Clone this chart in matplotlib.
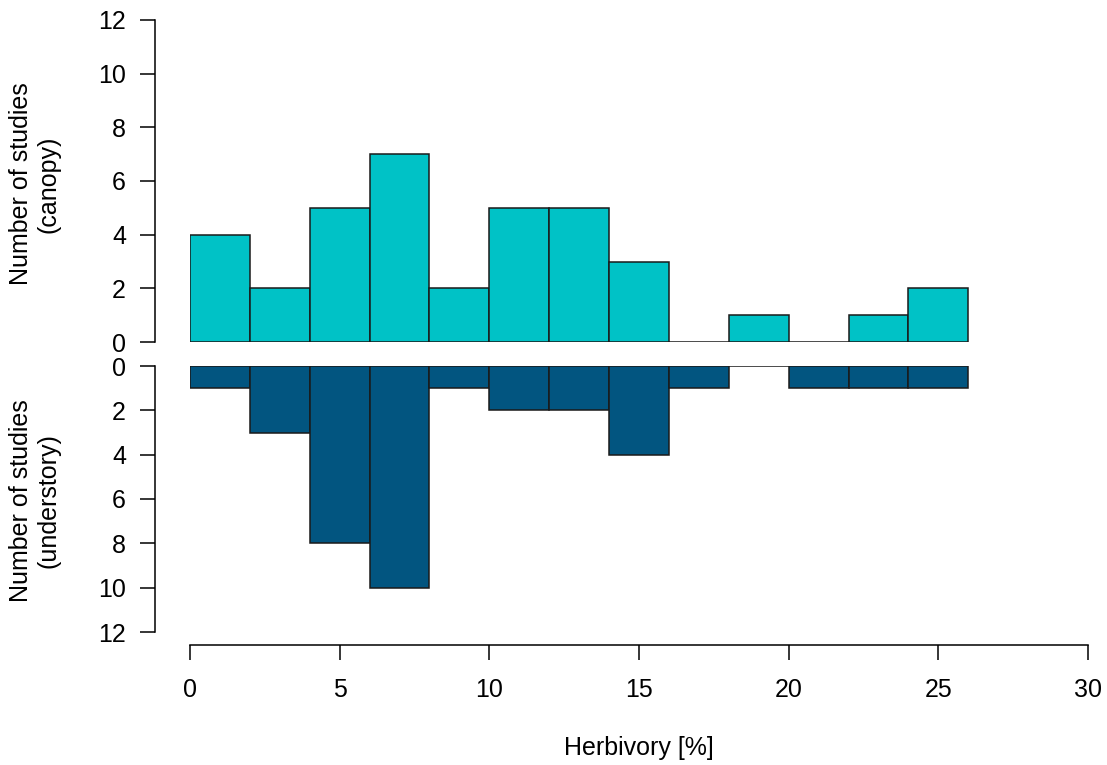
import matplotlib
matplotlib.use("Agg")
import matplotlib.pyplot as plt

# histogram bins (Herbivory %), width 2
bin_edges = [0, 2, 4, 6, 8, 10, 12, 14, 16, 18, 20, 22, 24, 26]
canopy = [4, 2, 5, 7, 2, 5, 5, 3, 0, 1, 0, 1, 2]
understory = [1, 3, 8, 10, 1, 2, 2, 4, 1, 0, 1, 1, 1]
x_ticks = [0, 5, 10, 15, 20, 25, 30]
y_ticks = [0, 2, 4, 6, 8, 10, 12]

plt.rcParams['font.family'] = ['Liberation Sans', 'DejaVu Sans']

W, H = 1107, 765
fig = plt.figure(figsize=(W / 100, H / 100), dpi=100)

left = 190 / W
width = (1088 - 190) / W
ax1 = fig.add_axes([left, 1 - 342 / H, width, (342 - 20) / H])
ax2 = fig.add_axes([left, 1 - 632 / H, width, (632 - 366) / H])

lefts = bin_edges[:-1]
widths = [b - a for a, b in zip(bin_edges[:-1], bin_edges[1:])]

ax1.bar(lefts, canopy, width=widths, align='edge', color='#00C2C6',
        edgecolor='#1a1a1a', linewidth=1.1)
ax2.bar(lefts, understory, width=widths, align='edge', color='#025580',
        edgecolor='#1a1a1a', linewidth=1.1)

for ax in (ax1, ax2):
    ax.set_xlim(0, 30)
    ax.set_ylim(0, 12)
    for s in ('top', 'right', 'bottom'):
        ax.spines[s].set_visible(False)
    ax.spines['left'].set_position(('outward', 25))
    ax.spines['left'].set_bounds(0, 12)
    ax.spines['left'].set_linewidth(1.1)
    ax.set_yticks(y_ticks)
    ax.tick_params(axis='y', length=11, width=1.1, pad=10, labelsize=18)
    ax.set_xticks([])

ax2.invert_yaxis()

# x axis on the lower panel
ax2.spines['bottom'].set_visible(True)
ax2.spines['bottom'].set_position(('outward', 9))
ax2.spines['bottom'].set_bounds(0, 30)
ax2.spines['bottom'].set_linewidth(1.1)
ax2.set_xticks(x_ticks)
ax2.tick_params(axis='x', length=11, width=1.1, pad=13, labelsize=18)

fig.text(35 / W, 1 - 184 / H, 'Number of studies\n(canopy)', rotation=90,
         ha='center', va='center', multialignment='center', fontsize=18,
         linespacing=1.2)
fig.text(35 / W, 1 - 501 / H, 'Number of studies\n(understory)', rotation=90,
         ha='center', va='center', multialignment='center', fontsize=18,
         linespacing=1.2)
fig.text(639 / W, 1 - 748 / H, 'Herbivory [%]', ha='center', va='center',
         fontsize=18)

fig.savefig('out.png', dpi=100)
